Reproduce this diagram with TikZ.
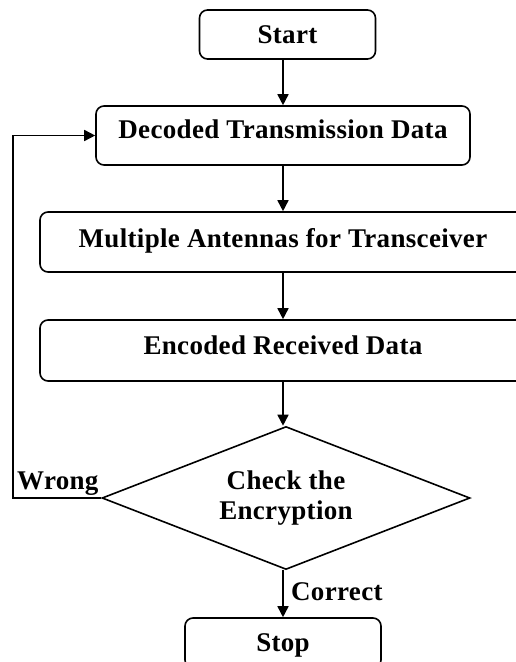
\documentclass[tikz,border=0pt]{standalone}
\usepackage{fontspec}
\setmainfont[LetterSpace=1.2]{Liberation Serif}
\usetikzlibrary{shapes.geometric,arrows.meta}
\begin{document}
\begin{tikzpicture}[x=1pt,y=-1pt,
  lbl/.style={font=\fontsize{27}{30}\selectfont\bfseries, inner sep=0pt},
  box/.style={lbl, draw, rounded corners=8pt, line width=1.6pt, text height=17.9pt, align=center},
  decision/.style={lbl, draw, shape=diamond, aspect=2.57, line width=1.6pt, align=center},
  flow/.style={line width=1.6pt, -{Triangle[length=11pt,width=11pt]}},
  flowline/.style={line width=1.6pt}]
\useasboundingbox (0,0) rectangle (515,662);

% process boxes
\node[box, minimum width=176pt, minimum height=49pt, text depth=0pt] (start) at (287.5,34.5) {Start};
\node[box, minimum width=374pt, minimum height=59pt, text depth=11pt] (dec) at (283,135.5) {Decoded Transmission Data};
\node[box, minimum width=486pt, minimum height=60pt, text depth=6pt] (ant) at (283,242) {Multiple Antennas for Transceiver};
\node[box, minimum width=486pt, minimum height=61pt, text depth=9pt] (enc) at (283,350.5) {Encoded Received Data};
\node[decision, minimum width=368pt, minimum height=143pt] (chk) at (286,498) {Check the\\Encryption};
\node[box, minimum width=196pt, minimum height=50pt, text depth=0pt] (stop) at (283,643) {Stop};

% branch labels
\node[lbl, anchor=base west] (wrong) at (17,489) {Wrong};
\node[lbl, anchor=base west] (correct) at (291,600) {Correct};
\coordinate (back) at (13,498);

% connectors
\draw[flow] (dec.north |- start.south) -- (dec.north);
\draw[flow] (dec.south) -- (ant.north);
\draw[flow] (ant.south) -- (enc.north);
\draw[flow] (enc.south) -- (enc.south |- chk.north);
\draw[flow] (chk.south -| stop.north) -- (stop.north);
\draw[flow] (chk.west) -- (back) |- (dec.west);
\end{tikzpicture}
\end{document}
